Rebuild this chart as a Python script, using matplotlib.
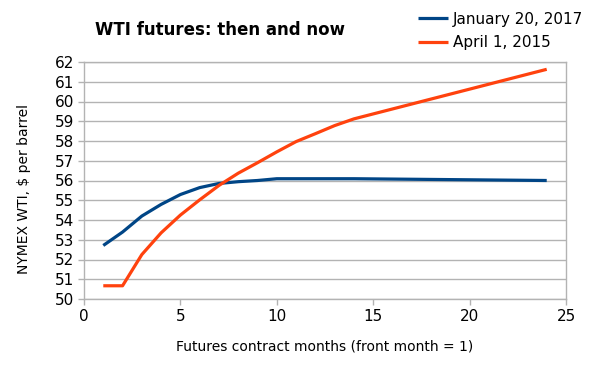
import matplotlib
matplotlib.use("Agg")
import matplotlib.pyplot as plt

# front-month numbers and settlement prices
months_2017 = [1, 2, 3, 4, 5, 6, 7, 8, 9, 10, 11, 12, 13, 14, 24]
wti_2017 = [52.71, 53.39, 54.2, 54.79, 55.29, 55.64, 55.85, 55.94, 56.0, 56.09,
            56.09, 56.09, 56.09, 56.09, 56.0]

months_2015 = [1, 2, 3, 4, 5, 6, 7, 8, 9, 10, 11, 12, 13, 14, 24]
wti_2015 = [50.67, 50.67, 52.25, 53.35, 54.25, 55.02, 55.75, 56.37, 56.9, 57.45,
            57.97, 58.37, 58.78, 59.12, 61.63]

labels = ["January 20, 2017", "April 1, 2015"]

plt.rcParams['font.family'] = ['DejaVu Sans']
grey = '#b3b3b3'

fig = plt.figure(figsize=(6.05, 3.77), dpi=100)
ax = fig.add_axes([84/605, 1 - 299/377, (566 - 84)/605, (299 - 62)/377])

ax.plot(months_2017, wti_2017, color='#004586', lw=2.3, label=labels[0],
        solid_capstyle='butt')
ax.plot(months_2015, wti_2015, color='#ff420e', lw=2.3, label=labels[1],
        solid_capstyle='butt')

ax.set_xlim(0, 25)
ax.set_ylim(50, 62)
ax.set_xticks(range(0, 26, 5))
ax.set_yticks(range(50, 63))
ax.grid(axis='y', color=grey, lw=1)
ax.set_axisbelow(True)
for s in ax.spines.values():
    s.set_color(grey)
    s.set_linewidth(1)
ax.tick_params(colors=grey, labelcolor='black', labelsize=11, length=4, width=1, pad=3)

ax.set_xlabel("Futures contract months (front month = 1)", fontsize=10, labelpad=11)
ax.set_ylabel("NYMEX WTI, $ per barrel", fontsize=10)
ax.yaxis.set_label_coords((31 - 84)/482, (299 - 189)/237)

fig.text(95/605, 1 - 35/377, "WTI futures: then and now", fontsize=12,
         fontweight='bold', ha='left', va='baseline')

fig.legend(loc='upper left', bbox_to_anchor=(404/605, 1 + 2/377), frameon=False,
           fontsize=11, handlelength=2.0, handletextpad=0.3, labelspacing=0.55)

fig.savefig("out.png", dpi=100)
